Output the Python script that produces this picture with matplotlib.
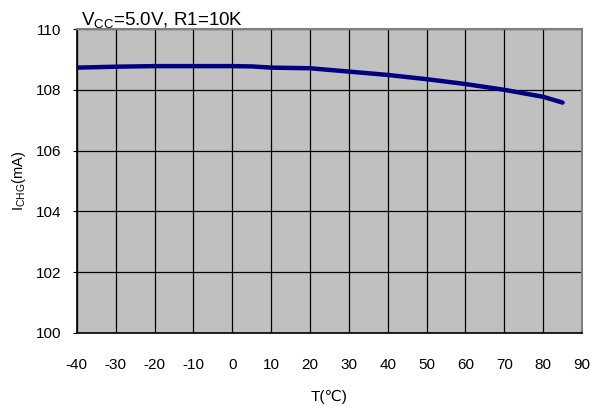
import matplotlib
matplotlib.use('Agg')
import matplotlib.pyplot as plt

# temperature (C) and charge current (mA)
temp = [-40, -30, -20, -10, 0, 5, 10, 20, 30, 40, 50, 60, 70, 80, 85]
i_chg = [108.73, 108.76, 108.78, 108.78, 108.78, 108.77, 108.73, 108.71,
         108.6, 108.49, 108.35, 108.19, 108.0, 107.77, 107.58]
x_ticks = list(range(-40, 91, 10))
y_ticks = [100, 102, 104, 106, 108, 110]

plt.rcParams['font.family'] = ['Liberation Sans', 'DejaVu Sans']
plt.rcParams['axes.unicode_minus'] = False

fig = plt.figure(figsize=(6, 4.09), dpi=100)
ax = fig.add_axes([0.128, 0.186, 0.842, 0.743])
ax.set_facecolor('#C0C0C0')

ax.plot(temp, i_chg, color='#000080', linewidth=3.2, solid_capstyle='round')

ax.set_xlim(-40, 90)
ax.set_ylim(100, 110)
ax.set_xticks(x_ticks)
ax.set_yticks(y_ticks)
ax.grid(True, color='black', linewidth=0.9)
ax.set_axisbelow(True)

for s in ['top', 'right']:
    ax.spines[s].set_color('#808080')
    ax.spines[s].set_linewidth(1.5)
for s in ['left', 'bottom']:
    ax.spines[s].set_color('black')
    ax.spines[s].set_linewidth(1.2)

ax.tick_params(axis='x', length=0, pad=18, labelsize=11)
ax.tick_params(axis='y', length=3, pad=8, labelsize=11)

ax.set_xlabel('T(℃)', fontsize=11, labelpad=13)
ax.set_ylabel('I$_{\\mathregular{CHG}}$(mA)', fontsize=10.5, labelpad=6)

fig.text(0.135, 0.937, 'V$_{\\mathregular{CC}}$=5.0V, R1=10K', fontsize=13.5,
         ha='left', va='baseline')

fig.savefig('out.png', dpi=100)
